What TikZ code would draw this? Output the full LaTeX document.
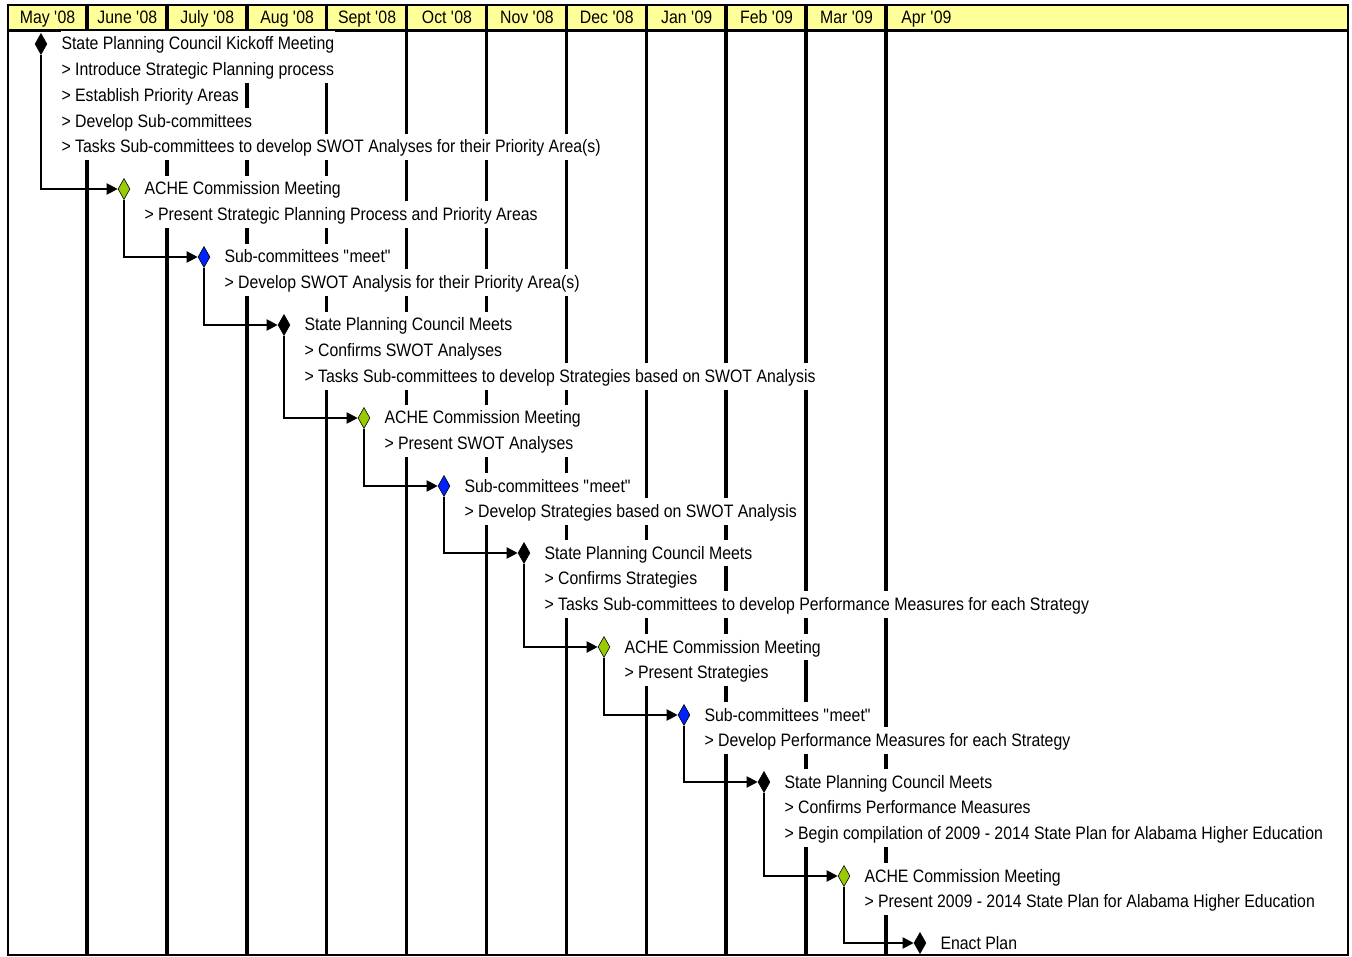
\documentclass[tikz,border=0pt]{standalone}
\usepackage{fontspec}
\setmainfont{Liberation Sans}[FakeStretch=0.88]
\usetikzlibrary{arrows.meta,positioning,shapes.geometric}
\definecolor{hdr}{HTML}{FFFF99}
\definecolor{lime}{HTML}{99CC00}
\definecolor{royal}{HTML}{0022FF}

\begin{document}
\begin{tikzpicture}[x=1pt, y=-1pt, font=\fontsize{18}{20}\selectfont,
  milestone/.style={diamond, draw=black, line width=0.6pt, inner sep=0pt,
    minimum width=12pt, minimum height=21pt},
  task/.style={fill=white, inner xsep=1pt, inner ysep=2.75pt, outer ysep=-0.4pt,
    text height=16.5pt, text depth=4.5pt},
  flow/.style={line width=2pt, -{Triangle[length=11pt,width=11pt]}},
  monthline/.style={line width=3.5pt},
  month/.style={inner sep=0pt, text height=13pt, text depth=0pt}]
  \useasboundingbox (0,0) rectangle (1352,957);

  % month header and grid
  \fill[hdr] (8,5) rectangle (1348,30);
  \draw[line width=3pt] (8,31) -- (1348,31);
  \foreach \k in {0,...,10}
    \draw[monthline] ({87+79.9*\k},5) -- ({87+79.9*\k},955);
  \foreach \m [count=\i from 0] in {May \textquotesingle08, June \textquotesingle08,
      July \textquotesingle08, Aug \textquotesingle08, Sept \textquotesingle08,
      Oct \textquotesingle08, Nov \textquotesingle08, Dec \textquotesingle08,
      Jan \textquotesingle09, Feb \textquotesingle09, Mar \textquotesingle09,
      Apr \textquotesingle09}
    \node[month] (m\i) at ({47.5+79.9*\i},17.5) {\m};

  % milestones
  \node[milestone, fill=black] (d1) at (41,44) {};
  \node[milestone, fill=lime]  (d2) at (124,189) {};
  \node[milestone, fill=royal] (d3) at (204,257) {};
  \node[milestone, fill=black] (d4) at (284,325) {};
  \node[milestone, fill=lime]  (d5) at (364,418) {};
  \node[milestone, fill=royal] (d6) at (444,486) {};
  \node[milestone, fill=black] (d7) at (524,553) {};
  \node[milestone, fill=lime]  (d8) at (604,647) {};
  \node[milestone, fill=royal] (d9) at (684,715) {};
  \node[milestone, fill=black] (d10) at (764,782) {};
  \node[milestone, fill=lime]  (d11) at (844,876) {};
  \node[milestone, fill=black] (d12) at (920,943) {};

  % texts
  \node[task, right=13pt of d1] (t1) {State Planning Council Kickoff Meeting};
  \node[task, anchor=north west] (t1b) at (t1.south west) {> Introduce Strategic Planning process};
  \node[task, anchor=north west] (t1c) at (t1b.south west) {> Establish Priority Areas};
  \node[task, anchor=north west] (t1d) at (t1c.south west) {> Develop Sub-committees};
  \node[task, anchor=north west] (t1e) at (t1d.south west) {> Tasks Sub-committees to develop SWOT Analyses for their Priority Area(s)};

  \node[task, right=13pt of d2] (t2) {ACHE Commission Meeting};
  \node[task, anchor=north west] (t2b) at (t2.south west) {> Present Strategic Planning Process and Priority Areas};

  \node[task, right=13pt of d3] (t3) {Sub-committees \textquotedbl meet\textquotedbl};
  \node[task, anchor=north west] (t3b) at (t3.south west) {> Develop SWOT Analysis for their Priority Area(s)};

  \node[task, right=13pt of d4] (t4) {State Planning Council Meets};
  \node[task, anchor=north west] (t4b) at (t4.south west) {> Confirms SWOT Analyses};
  \node[task, anchor=north west] (t4c) at (t4b.south west) {> Tasks Sub-committees to develop Strategies based on SWOT Analysis};

  \node[task, right=13pt of d5] (t5) {ACHE Commission Meeting};
  \node[task, anchor=north west] (t5b) at (t5.south west) {> Present SWOT Analyses};

  \node[task, right=13pt of d6] (t6) {Sub-committees \textquotedbl meet\textquotedbl};
  \node[task, anchor=north west] (t6b) at (t6.south west) {> Develop Strategies based on SWOT Analysis};

  \node[task, right=13pt of d7] (t7) {State Planning Council Meets};
  \node[task, anchor=north west] (t7b) at (t7.south west) {> Confirms Strategies};
  \node[task, anchor=north west] (t7c) at (t7b.south west) {> Tasks Sub-committees to develop Performance Measures for each Strategy};

  \node[task, right=13pt of d8] (t8) {ACHE Commission Meeting};
  \node[task, anchor=north west] (t8b) at (t8.south west) {> Present Strategies};

  \node[task, right=13pt of d9] (t9) {Sub-committees \textquotedbl meet\textquotedbl};
  \node[task, anchor=north west] (t9b) at (t9.south west) {> Develop Performance Measures for each Strategy};

  \node[task, right=13pt of d10] (t10) {State Planning Council Meets};
  \node[task, anchor=north west] (t10b) at (t10.south west) {> Confirms Performance Measures};
  \node[task, anchor=north west] (t10c) at (t10b.south west) {> Begin compilation of 2009 - 2014 State Plan for Alabama Higher Education};

  \node[task, right=13pt of d11] (t11) {ACHE Commission Meeting};
  \node[task, anchor=north west] (t11b) at (t11.south west) {> Present 2009 - 2014 State Plan for Alabama Higher Education};

  \node[task, right=13pt of d12] (t12) {Enact Plan};

  % links
  \foreach \a/\b in {1/2, 2/3, 3/4, 4/5, 5/6, 6/7, 7/8, 8/9, 9/10, 10/11, 11/12}
    \draw[flow] (d\a.south) |- (d\b.west);

  % outer frame
  \draw[line width=2.5pt] (8,5) rectangle (1348,955);
\end{tikzpicture}
\end{document}
